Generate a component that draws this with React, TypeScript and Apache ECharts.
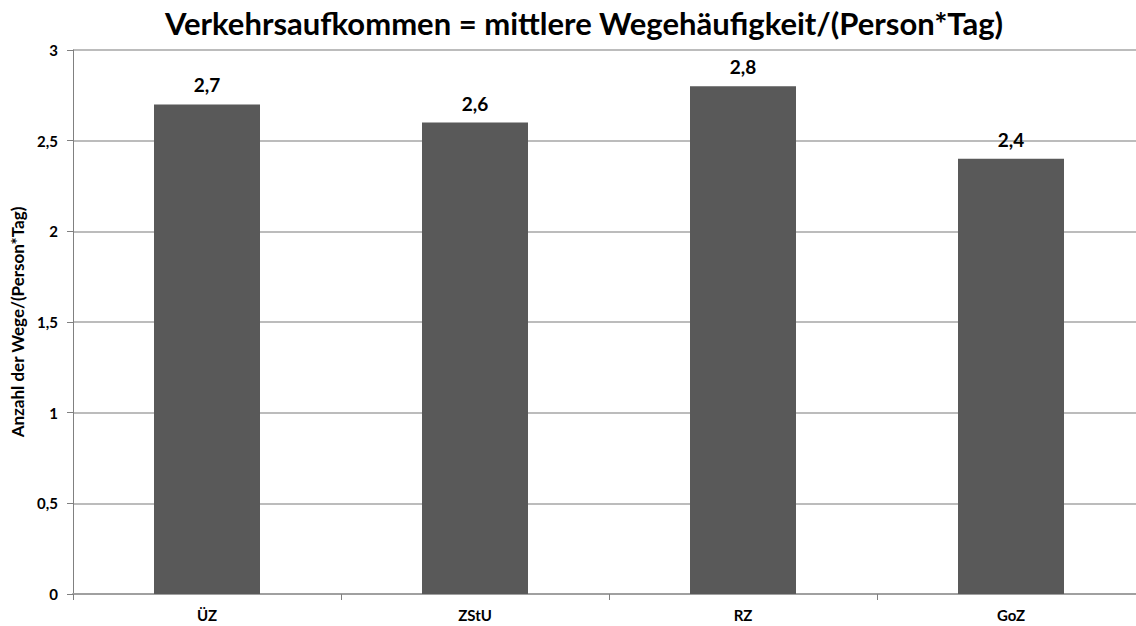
import React, { useEffect, useRef } from "react";
import * as echarts from "echarts";

const categories = ["ÜZ", "ZStU", "RZ", "GoZ"];
const values = [2.7, 2.6, 2.8, 2.4];
const yTicks = [0, 0.5, 1, 1.5, 2, 2.5, 3];
const titleText = "Verkehrsaufkommen = mittlere Wegehäufigkeit/(Person*Tag)";
const yAxisName = "Anzahl der Wege/(Person*Tag)";

const fmt = (v: number) => String(v).replace(".", ",");

export default function App() {
  const ref = useRef<HTMLDivElement>(null);
  useEffect(() => {
    if (!ref.current) return;
    const chart = echarts.init(ref.current, undefined, { renderer: "svg" });
    const font = "Lato, 'Open Sans', sans-serif";
    chart.setOption({
      animation: false,
      backgroundColor: "#ffffff",
      title: {
        text: titleText,
        left: 579,
        top: 2,
        textAlign: "center",
        textStyle: { fontFamily: font, fontSize: 31, fontWeight: "bold", color: "#000" },
      },
      grid: { left: 73, top: 50, width: 1072, height: 544, containLabel: false },
      xAxis: {
        type: "category",
        data: categories,
        axisLine: { show: true, lineStyle: { color: "#a0a0a0", width: 2 } },
        axisTick: { show: true, length: 6, alignWithLabel: false, lineStyle: { color: "#808080" } },
        axisLabel: {
          fontFamily: font,
          fontSize: 15,
          fontWeight: "bold",
          color: "#000",
          margin: 13,
        },
      },
      yAxis: {
        type: "value",
        min: 0,
        max: 3,
        interval: 0.5,
        name: yAxisName,
        nameLocation: "middle",
        nameGap: 47,
        nameRotate: 90,
        nameTextStyle: { fontFamily: font, fontSize: 17, fontWeight: "bold", color: "#000" },
        axisLine: { show: true, lineStyle: { color: "#808080", width: 1 } },
        axisTick: { show: true, length: 6, lineStyle: { color: "#808080" } },
        splitLine: { show: true, lineStyle: { color: "#a6a6a6", width: 1.5 } },
        axisLabel: {
          fontFamily: font,
          fontSize: 15,
          fontWeight: "bold",
          color: "#000",
          margin: 15,
          formatter: (v: number) => (yTicks.includes(v) ? fmt(v) : ""),
        },
      },
      series: [
        {
          type: "bar",
          data: values,
          barWidth: 106,
          itemStyle: { color: "#595959" },
          label: {
            show: true,
            position: "top",
            distance: 10,
            fontFamily: font,
            fontSize: 19,
            fontWeight: "bold",
            color: "#000",
            formatter: (p: any) => fmt(p.value),
          },
        },
      ],
    });
    return () => chart.dispose();
  }, []);
  return (
    <div style={{ width: 1136, height: 626, position: "absolute", left: 0, top: 0, overflow: "hidden" }}>
      <div ref={ref} style={{ width: 1150, height: 626, position: "absolute", left: 0, top: 0 }} />
    </div>
  );
}
